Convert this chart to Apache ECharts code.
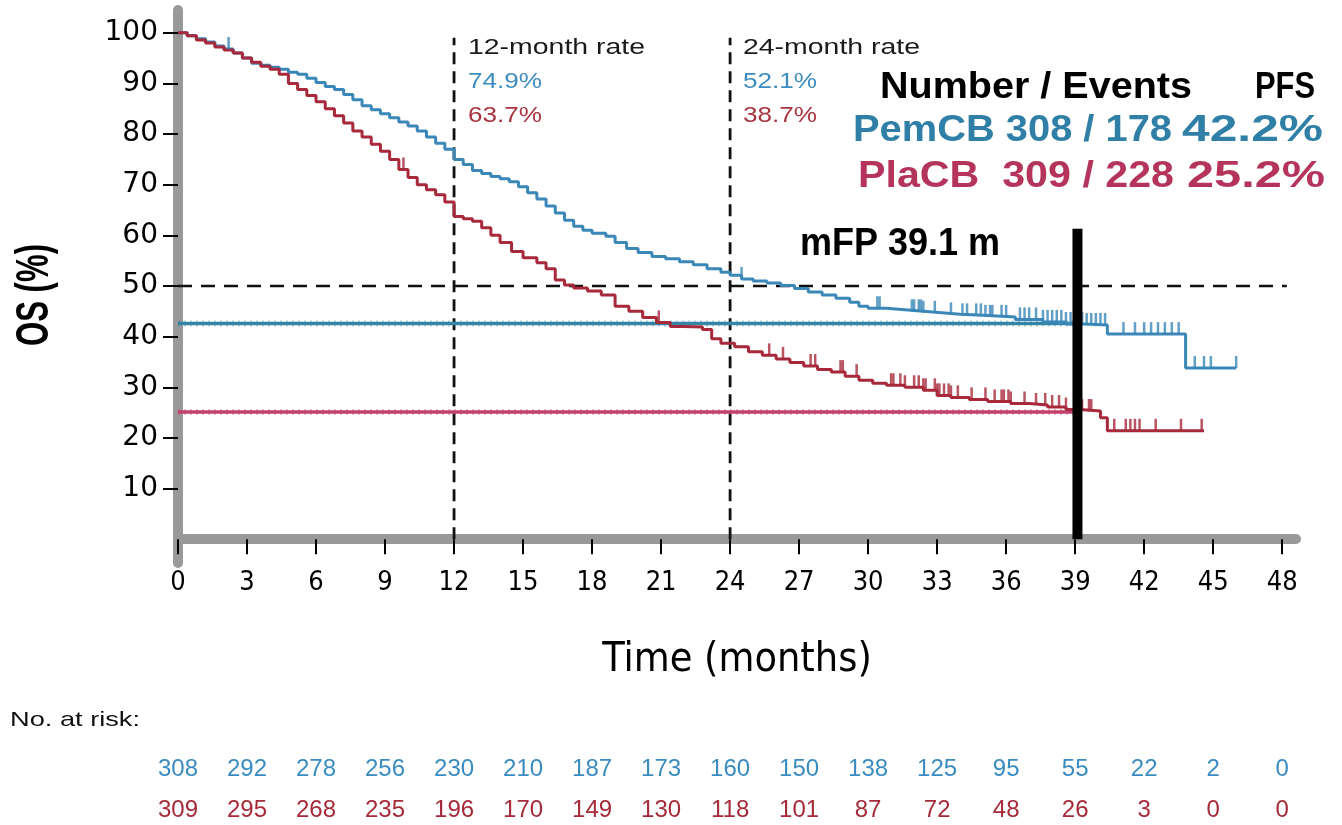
<!DOCTYPE html>
<html>
<head>
<meta charset="utf-8">
<script src="https://cdn.jsdelivr.net/npm/echarts/dist/echarts.min.js"></script>
<style>
html,body{margin:0;padding:0;background:#fff;}
#chart{width:1342px;height:825px;}
</style>
</head>
<body>
<div id="chart"></div>
<script>
// ---------------- DATA ----------------
const pemTimes = [0,0.4,0.8,1.2,1.6,2.0,2.4,2.8,3.2,3.6,4.0,4.4,4.8,5.2,5.6,6.0,6.4,6.8,7.2,7.6,8.0,8.4,8.8,9.2,9.6,10.0,10.4,10.8,11.2,11.6,12.0,12.4,12.8,13.2,13.6,14.0,14.4,14.8,15.2,15.6,16.0,16.4,16.8,17.2,17.6,18.0,18.6,19.0,19.5,20.0,20.6,21.2,21.8,22.4,23.0,23.6,24.0,24.5,25.0,25.6,26.2,26.8,27.4,28.0,28.6,29.2,29.6,30.0,30.8,31.6,32.4,33.2,34.0,35.0,36.4,37.6,38.6,39.4,40.4,43.8,46.0];
const pemSurv  = [100,99.4,98.8,98.2,97.4,96.8,96.0,95.0,94.0,93.6,93.2,92.8,92.2,91.8,91.0,90.2,89.4,88.8,87.8,86.8,85.6,84.8,84.0,83.2,82.4,81.6,80.6,79.4,78.2,77.0,75.0,74.0,72.8,72.2,71.6,71.2,70.6,69.6,68.4,67.2,65.8,64.4,63.0,61.8,61.0,60.4,59.8,58.6,57.4,56.6,55.8,55.4,54.8,54.2,53.4,52.7,52.1,51.4,51.0,50.6,50.1,49.5,48.8,48.2,47.6,46.8,46.0,45.6,45.3,45.0,44.7,44.4,44.2,43.9,43.4,42.9,42.5,42.3,40.5,33.8,33.8];
const plaTimes = [0,0.4,0.8,1.2,1.6,2.0,2.4,2.8,3.2,3.6,4.0,4.4,4.8,5.2,5.6,6.0,6.4,6.8,7.2,7.6,8.0,8.4,8.8,9.2,9.6,10.0,10.4,10.8,11.2,11.6,12.0,12.4,12.8,13.2,13.6,14.0,14.5,15.0,15.6,16.0,16.4,16.8,17.2,17.8,18.4,19.0,19.6,20.2,20.8,21.4,22.0,22.8,23.2,23.6,24.2,24.8,25.4,26.0,26.6,27.2,27.8,28.4,29.0,29.6,30.2,30.8,31.6,32.4,33.0,33.6,34.4,35.2,36.2,37.0,37.8,38.6,39.2,40.1,40.4,44.6];
const plaSurv  = [100,99.4,98.6,98.0,97.2,96.6,96.0,95.0,94.2,93.4,92.8,91.8,90.0,88.8,87.6,86.4,85.0,83.6,82.2,80.6,79.4,78.0,76.6,75.0,73.0,71.4,70.0,69.0,68.0,66.6,63.7,63.3,62.8,61.5,60.0,58.6,56.8,55.6,54.6,53.4,51.2,50.2,49.6,49.0,48.2,46.0,45.0,43.8,42.8,42.0,41.9,41.4,39.6,38.7,38.0,37.0,36.3,35.6,34.9,34.2,33.5,33.0,32.2,31.4,30.8,30.4,30.0,29.4,28.4,28.0,27.6,27.2,26.8,26.5,26.1,25.6,25.3,24.0,21.4,21.4];
const pemCensor = [2.2,24.5,30.4,30.5,31.9,32.0,32.2,32.3,32.4,32.9,33.6,34.1,34.3,34.7,34.9,35.1,35.3,35.4,35.8,36.0,36.6,36.8,37.0,37.3,37.6,37.8,38.0,38.2,38.4,38.6,38.8,39.0,39.3,39.5,39.7,39.9,40.1,40.3,41.1,41.6,42.0,42.3,42.6,42.9,43.2,43.5,44.2,44.6,44.9,46.0];
const plaCensor = [9.8,20.9,25.7,26.3,27.5,27.7,28.8,28.9,29.5,31.0,31.1,31.4,31.6,32.0,32.2,32.4,32.5,32.9,33.0,33.1,33.3,33.5,33.6,33.9,34.5,35.1,35.5,35.8,35.9,36.1,36.2,36.8,37.3,37.7,38.0,38.3,38.6,39.3,39.6,39.7,40.7,41.2,41.4,41.6,41.8,42.5,43.6,44.5];
const pfsPemLevel = 42.6;
const pfsPlaLevel = 25.1;
const mfpMonths = 39.1;
const mfpTop = 61.3;
const rateMonths = [12, 24];
const rateLineTop = 99;
const medianLevel = 50;
const medianLineEnd = 48.2;
const xTicks = [0,3,6,9,12,15,18,21,24,27,30,33,36,39,42,45,48];
const yTicks = [10,20,30,40,50,60,70,80,90,100];
const pemRisk = [308,292,278,256,230,210,187,173,160,150,138,125,95,55,22,2,0];
const plaRisk = [309,295,268,235,196,170,149,130,118,101,87,72,48,26,3,0,0];
const rate12 = ['74.9%', '63.7%'];
const rate24 = ['52.1%', '38.7%'];
const legendRows = [
  ['Number / Events', 'PFS'],
  ['PemCB 308 / 178', '42.2%'],
  ['PlaCB  309 / 228', '25.2%']
];

// ---------------- STYLE ----------------
const C_PEM = '#3a87b8', C_PLA = '#a8293b';
const C_PFS_PEM = '#3585a6', C_PFS_PLA = '#c2406b';
const C_TXT_PEM = '#3d8dbf', C_TXT_PLA = '#a83442';
const C_LEG_PEM = '#2f7fa6', C_LEG_PLA = '#b5345c';
const SANS = "'Liberation Sans', Arial, Helvetica, sans-serif";
const COND = "'DejaVu Sans Condensed', 'Liberation Sans', sans-serif";

function survAt(times, surv, t) {
  let v = surv[0];
  for (let i = 0; i < times.length; i++) { if (times[i] <= t) v = surv[i]; }
  return v;
}
const zip = (a, b) => a.map((v, i) => [v, b[i]]);

const mctx = document.createElement('canvas').getContext('2d');
function txt(str, x, cy, size, weight, color, width, opts) {
  opts = opts || {};
  const font = weight + ' ' + size + 'px ' + SANS;
  mctx.font = font;
  const w = mctx.measureText(str).width;
  const s = width ? width / w : 1;
  const align = opts.align || 'left';
  return {
    type: 'text', x: x, y: cy, scaleX: s, scaleY: 1, rotation: opts.rotation || 0, z: 100,
    style: { text: str, x: 0, y: 0, font: font, fill: color,
      align: align, verticalAlign: 'middle', textAlign: align, textVerticalAlign: 'middle' }
  };
}

const chart = echarts.init(document.getElementById('chart'), null, { renderer: 'canvas' });

const GRID = { left: 178, top: 10, width: 1118, height: 553 };

const graphics = [
  txt('12-month rate', 468, 48, 22, 'normal', '#1a1a1a', 177),
  txt(rate12[0], 468, 82, 22, 'normal', C_TXT_PEM, 74),
  txt(rate12[1], 468, 116, 22, 'normal', C_TXT_PLA, 74),
  txt('24-month rate', 743, 48, 22, 'normal', '#1a1a1a', 177),
  txt(rate24[0], 743, 82, 22, 'normal', C_TXT_PEM, 74),
  txt(rate24[1], 743, 116, 22, 'normal', C_TXT_PLA, 74),
  txt(legendRows[0][0], 880, 88, 36, 'bold', '#000', 312),
  txt(legendRows[0][1], 1255, 88, 36, 'bold', '#000', 60),
  txt(legendRows[1][0], 853, 131, 36, 'bold', C_LEG_PEM, 319),
  txt(legendRows[1][1], 1182, 131, 36, 'bold', C_LEG_PEM, 141),
  txt(legendRows[2][0], 858, 177, 36, 'bold', C_LEG_PLA, 316),
  txt(legendRows[2][1], 1187, 177, 36, 'bold', C_LEG_PLA, 138),
  txt('mFP 39.1 m', 800, 245, 38, 'bold', '#000', 200),
  txt('No. at risk:', 10, 720, 21, 'normal', '#111', 130),
  txt('OS (%)', 35, 295, 46, 'bold', '#000', 102, { align: 'center', rotation: Math.PI / 2 })
];

function riskAxis(arr, color, offset) {
  return {
    type: 'value', gridIndex: 0, position: 'bottom', offset: offset,
    min: 0, max: 48.6,
    axisLine: { show: false, onZero: false }, axisTick: { show: false }, splitLine: { show: false },
    axisLabel: {
      customValues: xTicks, margin: 2, color: color, fontSize: 24, fontFamily: SANS,
      formatter: v => { const i = xTicks.indexOf(v); return i >= 0 ? String(arr[i]) : ''; }
    }
  };
}

function vline(x, top) { return [[x, 0], [x, top]]; }

function pfsSeries(name, level, color) {
  return [
    { name: name, type: 'line', data: [[0, level], [mfpMonths, level]], symbol: 'none', z: 2,
      lineStyle: { color: color, width: 3.5 } },
    { name: name + ' texture', type: 'line', data: [[0, level], [mfpMonths, level]], symbol: 'none', z: 2, silent: true,
      lineStyle: { color: color, width: 6, opacity: 0.35, type: [2, 4] } }
  ];
}

const option = {
  animation: false,
  backgroundColor: '#ffffff',
  grid: GRID,
  xAxis: [
    {
      type: 'value', min: 0, max: 48.6,
      name: 'Time (months)', nameLocation: 'middle', nameGap: 77,
      nameTextStyle: { fontSize: 41, fontFamily: COND, color: '#000' },
      axisLine: { show: true, onZero: true, lineStyle: { color: '#999999', width: 10 } },
      axisTick: { show: true, customValues: xTicks, length: 15, lineStyle: { color: '#000', width: 2 } },
      axisLabel: { customValues: xTicks, margin: 6, fontSize: 27, fontFamily: COND, color: '#000' },
      splitLine: { show: false }
    },
    riskAxis(pemRisk, '#3a8cc0', 192),
    riskAxis(plaRisk, '#a52a3a', 233)
  ],
  yAxis: {
    type: 'value', min: -4.7, max: 104.5,
    axisLine: { show: true, onZero: true, lineStyle: { color: '#999999', width: 10 } },
    axisTick: { show: true, customValues: yTicks, length: 15, lineStyle: { color: '#000', width: 2 } },
    axisLabel: { customValues: yTicks, margin: 20, fontSize: 28, fontFamily: "'DejaVu Sans', sans-serif", color: '#000' },
    splitLine: { show: false }
  },
  graphic: graphics,
  series: [
    ...rateMonths.map(m => ({
      type: 'line', data: vline(m, rateLineTop), symbol: 'none', silent: true, z: 1,
      lineStyle: { color: '#111', width: 2.8, type: [12, 7] }
    })),
    {
      type: 'line', data: [[0, medianLevel], [medianLineEnd, medianLevel]], symbol: 'none', silent: true, z: 1,
      lineStyle: { color: '#111', width: 2.5, type: [14, 9] }
    },
    ...pfsSeries('PFS PemCB', pfsPemLevel, C_PFS_PEM),
    ...pfsSeries('PFS PlaCB', pfsPlaLevel, C_PFS_PLA),
    {
      name: 'PemCB', type: 'line', step: 'end', data: zip(pemTimes, pemSurv), symbol: 'none', z: 3,
      lineStyle: { color: C_PEM, width: 3 }
    },
    {
      name: 'PlaCB', type: 'line', step: 'end', data: zip(plaTimes, plaSurv), symbol: 'none', z: 3,
      lineStyle: { color: C_PLA, width: 3 }
    },
    {
      name: 'PemCB censored', type: 'scatter', z: 4,
      data: pemCensor.map(t => [t, survAt(pemTimes, pemSurv, t)]),
      symbol: 'rect', symbolSize: [2.5, 12], symbolOffset: [0, -6],
      itemStyle: { color: C_PEM }
    },
    {
      name: 'PlaCB censored', type: 'scatter', z: 4,
      data: plaCensor.map(t => [t, survAt(plaTimes, plaSurv, t)]),
      symbol: 'rect', symbolSize: [2.5, 12], symbolOffset: [0, -6],
      itemStyle: { color: C_PLA }
    },
    {
      type: 'line', data: vline(mfpMonths, mfpTop), symbol: 'none', silent: true, z: 5,
      lineStyle: { color: '#000', width: 10, cap: 'butt' }
    }
  ]
};
chart.setOption(option);
</script>
</body>
</html>
